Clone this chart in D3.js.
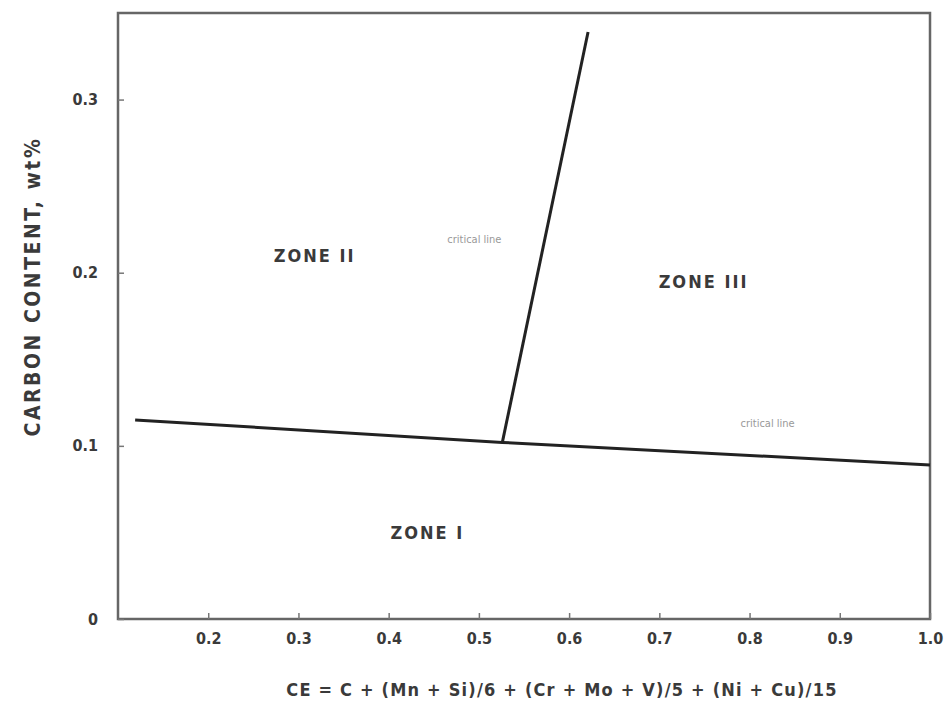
<!DOCTYPE html>
<html>
<head>
<meta charset="utf-8">
<script src="https://cdn.jsdelivr.net/npm/d3@7"></script>
<style>
  body { margin: 0; background: #fff; }
  svg text { font-family: "Liberation Sans Narrow", "DejaVu Sans Condensed", "Liberation Sans", sans-serif; fill: #3a3a3a; font-weight: bold; }
</style>
</head>
<body>
<script>
// boundary lines (CE, carbon wt%)
var horizLine = [[0.119, 0.115], [0.526, 0.102], [1.0, 0.089]];
var steepLine = [[0.526, 0.102], [0.621, 0.339]];
var zoneNames = ["ZONE I", "ZONE II", "ZONE III"];
var zoneX = [0.443, 0.318, 0.749];
var zoneY = [0.049, 0.209, 0.194];
var xTicks = [0.2, 0.3, 0.4, 0.5, 0.6, 0.7, 0.8, 0.9, 1.0];
var yTicks = [0, 0.1, 0.2, 0.3];
var noteText = ["critical line", "critical line"];
var noteX = [0.495, 0.82];
var noteY = [0.217, 0.111];

var width = 947, height = 706;
var margin = {left: 118, right: 17, top: 13, bottom: 87};

var svg = d3.select('body').append('svg')
    .attr('width', width)
    .attr('height', height);

var x = d3.scaleLinear().domain([0.1, 1.0]).range([margin.left, width - margin.right]);
var y = d3.scaleLinear().domain([0, 0.35]).range([height - margin.bottom, margin.top]);

// frame
svg.append('rect')
    .attr('x', x(0.1)).attr('y', y(0.35))
    .attr('width', x(1.0) - x(0.1))
    .attr('height', y(0) - y(0.35))
    .attr('fill', 'none')
    .attr('stroke', '#666')
    .attr('stroke-width', 2.5);

var xAxis = svg.append('g')
    .attr('transform', 'translate(0,' + y(0) + ')')
    .call(d3.axisBottom(x).tickValues(xTicks).tickSize(-6).tickPadding(14).tickFormat(d3.format('.1f')));
xAxis.select('.domain').remove();
xAxis.selectAll('line').attr('stroke', '#777').attr('stroke-width', 1.5);
xAxis.selectAll('text').style('font-size', '16px');

var yAxis = svg.append('g')
    .attr('transform', 'translate(' + x(0.1) + ',0)')
    .call(d3.axisLeft(y).tickValues(yTicks).tickSize(-6).tickPadding(20)
        .tickFormat(function(d) { return d === 0 ? '0' : d3.format('.1f')(d); }));
yAxis.select('.domain').remove();
yAxis.selectAll('line').attr('stroke', '#777').attr('stroke-width', 1.5);
yAxis.selectAll('text').style('font-size', '16px');

// axis titles
svg.append('text')
    .attr('x', 562).attr('y', 696)
    .attr('text-anchor', 'middle')
    .style('font-size', '18px')
    .style('letter-spacing', '1.2px')
    .text('CE = C + (Mn + Si)/6 + (Cr + Mo + V)/5 + (Ni + Cu)/15');

svg.append('text')
    .attr('transform', 'translate(40,' + y(0.192) + ') rotate(-90)')
    .attr('text-anchor', 'middle')
    .style('font-size', '21px')
    .style('letter-spacing', '2.5px')
    .text('CARBON  CONTENT,  wt%');

// boundaries
var line = d3.line().x(function(d) { return x(d[0]); }).y(function(d) { return y(d[1]); });
svg.append('path').datum(horizLine)
    .attr('d', line).attr('fill', 'none')
    .attr('stroke', '#222').attr('stroke-width', 3);
svg.append('path').datum(steepLine)
    .attr('d', line).attr('fill', 'none')
    .attr('stroke', '#222').attr('stroke-width', 3);

// zone labels
svg.selectAll('.zone')
    .data(zoneNames)
    .enter()
    .append('text')
    .attr('class', 'zone')
    .attr('x', function(d, i) { return x(zoneX[i]); })
    .attr('y', function(d, i) { return y(zoneY[i]); })
    .attr('text-anchor', 'middle')
    .attr('dominant-baseline', 'middle')
    .style('font-size', '18px')
    .style('letter-spacing', '2px')
    .text(function(d) { return d; });

// faint notes next to the lines
svg.selectAll('.note')
    .data(noteText)
    .enter()
    .append('text')
    .attr('class', 'note')
    .attr('x', function(d, i) { return x(noteX[i]); })
    .attr('y', function(d, i) { return y(noteY[i]); })
    .attr('text-anchor', 'middle')
    .style('font-size', '11px')
    .style('fill', '#999')
    .style('font-weight', 'normal')
    .text(function(d) { return d; });
</script>
</body>
</html>
